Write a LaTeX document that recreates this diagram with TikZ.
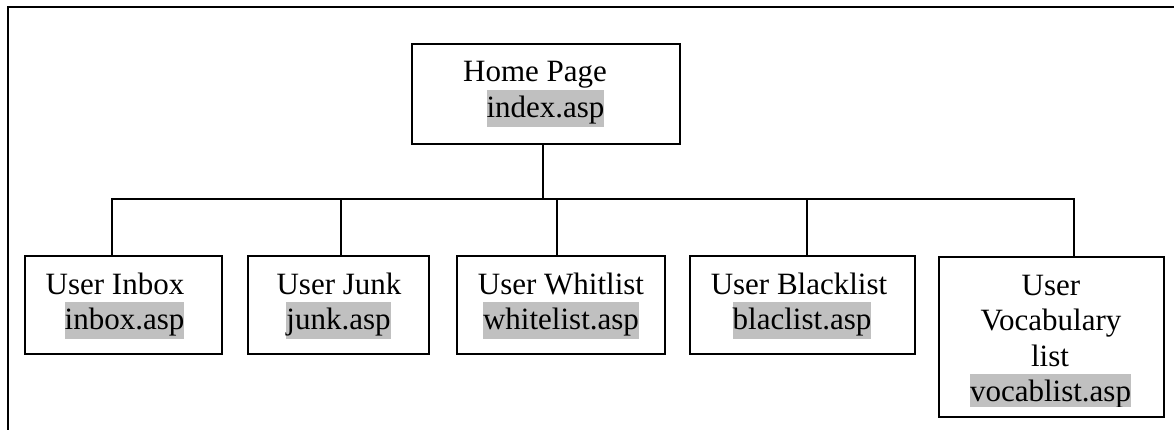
\documentclass[tikz,border=0pt]{standalone}
\usepackage{fontspec}
\setmainfont{Liberation Serif}
\definecolor{hlgray}{HTML}{C0C0C0}
\tikzset{
  pagebox/.style={draw=black, line width=1.3pt, inner sep=0pt, fill=none},
  wire/.style={draw=black, line width=1.3pt},
  frameline/.style={draw=black, line width=1.6pt},
  lbl/.style={anchor=base, inner sep=0pt, font=\fontsize{31}{36}\selectfont},
  fname/.style={lbl, fill=hlgray, inner xsep=0pt, inner ysep=0pt,
    text height=27.5pt, text depth=9.5pt},
}
\begin{document}
\begin{tikzpicture}[x=1pt, y=-1pt]
\useasboundingbox (0,0) rectangle (1174,430);

% outer frame (only the left and top edges fall inside the page)
\coordinate (frameBL) at (8,431);
\coordinate (frameTL) at (8,7);
\coordinate (frameTR) at (1175,7);
\draw[frameline] (frameBL) -- (frameTL) -- (frameTR);

% page boxes
\node[pagebox, minimum width=268pt, minimum height=100pt] (home)  at (546,94) {};
\node[pagebox, minimum width=197pt, minimum height=98pt]  (inbox) at (123.5,305) {};
\node[pagebox, minimum width=181pt, minimum height=98pt]  (junk)  at (338.5,305) {};
\node[pagebox, minimum width=208pt, minimum height=98pt]  (white) at (561,305) {};
\node[pagebox, minimum width=225pt, minimum height=98pt]  (black) at (802.5,305) {};
\node[pagebox, minimum width=225pt, minimum height=160pt] (vocab) at (1051.5,337) {};

% box labels
\node[lbl]   (homeT)  at (535,82)    {Home Page};
\node[fname] (homeF)  at (545.5,118) {index.asp};
\node[lbl]   (inboxT) at (115,294)   {User Inbox};
\node[fname] (inboxF) at (124.5,329.5) {inbox.asp};
\node[lbl]   (junkT)  at (339,294)   {User Junk};
\node[fname] (junkF)  at (338.5,329.5) {junk.asp};
\node[lbl]   (whiteT) at (561,294)   {User Whitlist};
\node[fname] (whiteF) at (561,329.5) {whitelist.asp};
\node[lbl]   (blackT) at (799,294)   {User Blacklist};
\node[fname] (blackF) at (802,329.5) {blaclist.asp};
\node[lbl]   (vocabA) at (1051,295)  {User};
\node[lbl]   (vocabB) at (1051,330.5) {Vocabulary};
\node[lbl]   (vocabC) at (1050,366)  {list};
\begin{scope}
  \clip (vocab.north west) rectangle (1164,406);
  \node[fname] (vocabF) at (1050.5,401.5) {vocablist.asp};
\end{scope}

% connector bus
\coordinate (homeDrop)  at (543,199);
\coordinate (inboxDrop) at (112,199);
\coordinate (junkDrop)  at (341,199);
\coordinate (whiteDrop) at (557,199);
\coordinate (blackDrop) at (807,199);
\coordinate (vocabDrop) at (1074,199);

\draw[wire] (homeDrop |- home.south) -- (homeDrop);
\draw[wire] (inbox.north -| inboxDrop) -- (inboxDrop) -- (vocabDrop) -- (vocabDrop |- vocab.north);
\draw[wire] (junkDrop)  -- (junkDrop |- junk.north);
\draw[wire] (whiteDrop) -- (whiteDrop |- white.north);
\draw[wire] (blackDrop) -- (blackDrop |- black.north);
\end{tikzpicture}
\end{document}
